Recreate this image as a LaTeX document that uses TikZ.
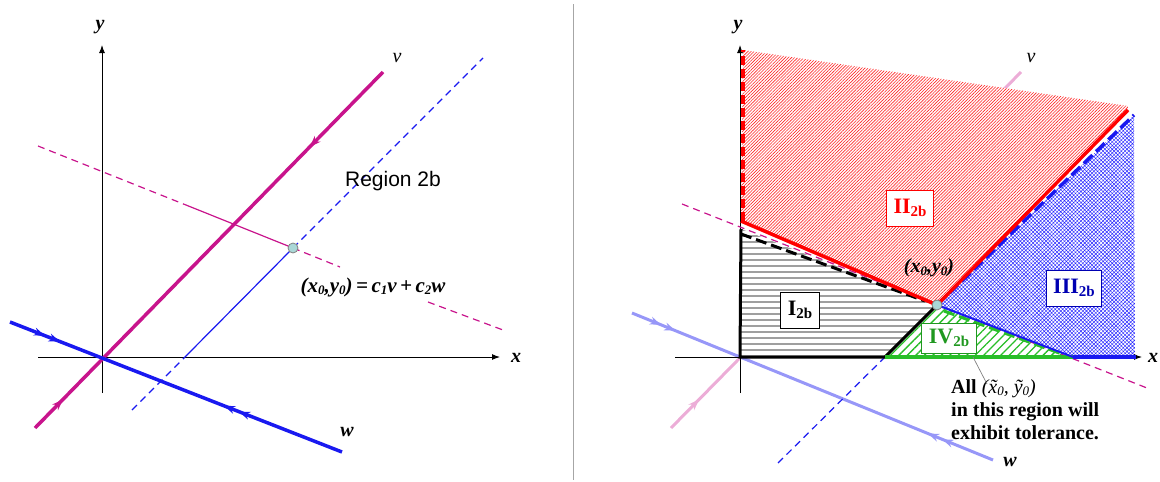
\documentclass[tikz,border=0pt]{standalone}
\usepackage{fontspec}
\setmainfont{Liberation Serif}
\newfontfamily\arialfont{Liberation Sans}
\usetikzlibrary{positioning, patterns.meta, decorations.markings, arrows.meta}
\definecolor{vmag}{RGB}{200,20,140}
\definecolor{wblu}{RGB}{25,25,240}
\definecolor{ptfill}{RGB}{170,215,215}
\definecolor{grn}{RGB}{40,190,40}
\newcommand\lowr[1]{\raisebox{-0.35ex}{\fontsize{15}{15}\selectfont #1}}
\newcommand\idx[1]{\raisebox{-0.3ex}{\fontsize{13}{13}\selectfont #1}}
\tikzset{
  axis/.style={line width=1pt, -{Latex[length=8pt,width=6pt]}},
  lbl/.style={font=\bfseries\itshape\fontsize{20}{20}\selectfont, inner sep=1pt},
  vline/.style={vmag, line width=3.5pt},
  wline/.style={wblu, line width=3.5pt},
  mdash/.style={vmag, line width=1.2pt, dash pattern=on 7pt off 5pt},
  bdash/.style={wblu, line width=1.2pt, dash pattern=on 7pt off 5pt},
  fwd/.style={postaction={decorate,decoration={markings,
    mark=at position #1 with {\arrow{Stealth[length=11pt,width=8pt]}}}}},
  bwd/.style={postaction={decorate,decoration={markings,
    mark=at position #1 with {\arrowreversed{Stealth[length=11pt,width=8pt]}}}}},
  pt/.style={draw=gray, fill=ptfill, line width=0.8pt},
  regbox/.style={draw=#1, text=#1, fill=white, line width=0.8pt, inner xsep=7pt,
    minimum height=36pt, font=\bfseries\fontsize{22}{22}\selectfont}
}

\begin{document}
\begin{tikzpicture}[x=1pt, y=-1pt]
\useasboundingbox (0,0) rectangle (1160,482);
% left panel
\coordinate (o) at (102,357);
\coordinate (xa) at (38,357);
\coordinate (xb) at (500,357);
\coordinate (ya) at (102,393);
\coordinate (yb) at (102,45);
\coordinate (v1) at (35,428);
\coordinate (v2) at (383,72);
\coordinate (w1) at (10,322);
\coordinate (w2) at (342,452);
\coordinate (p) at (293,248);
\coordinate (m1) at (38,146);
\coordinate (m2) at (186,205);
\coordinate (m4) at (340,267);
\coordinate (m5) at (428,302);
\coordinate (m3) at (503,330);
\coordinate (b1) at (132,410);
\coordinate (b2) at (185,357);
\coordinate (b3) at (483,58);
\draw [axis] (xa) -- (xb);
\draw [axis] (ya) -- (yb);
\node [lbl] (xl) at (516,358) {x};
\node [lbl] (yl) at (100,27) {y};
\draw [mdash] (m1) -- (m2);
\draw [vmag, line width=1.2pt] (m2) -- (p);
\draw [mdash] (p) -- (m4);
\draw [mdash] (m5) -- (m3);
\draw [bdash] (b1) -- (b2);
\draw [wblu, line width=1.2pt] (b2) -- (p);
\draw [bdash] (p) -- (b3);
\draw [vline, fwd=0.08, bwd=0.79] (v1) -- (v2);
\draw [wline, fwd=0.105, fwd=0.15, bwd=0.645, bwd=0.69] (w1) -- (w2);
\draw [pt] (p) circle (5);
\node [font=\itshape\fontsize{20}{20}\selectfont] (vl) at (397,58) {v};
\node [lbl] (wl) at (347,432) {w};
\node [font=\arialfont\fontsize{21}{21}\selectfont] (reg) at (393,181) {Region 2b};
\node [lbl, font=\bfseries\itshape\fontsize{21}{21}\selectfont] (eq) at (373,287)
  {(x\idx{0},y\idx{0})\,=\,c\idx{1}v\,+\,c\idx{2}w};
\draw [gray!70, line width=0.8pt] (573,4) -- (573,480);
% right panel
\coordinate (ro) at (740,357);
\coordinate (rxa) at (675,357);
\coordinate (rxb) at (1142,357);
\coordinate (rya) at (740,393);
\coordinate (ryb) at (740,45);
\coordinate (rv1) at (671,428);
\coordinate (rv2) at (1021,72);
\coordinate (rw1) at (632,313);
\coordinate (rw2) at (993,460);
\coordinate (rp) at (937,305);
\coordinate (rm1) at (682,204);
\coordinate (rm2) at (1147,388);
\coordinate (rb1) at (778,463);
\coordinate (ry2) at (741,221);
\coordinate (ryk) at (741,229);
\coordinate (rtop) at (743,50);
\coordinate (rtr) at (1128,106);
\coordinate (rr2) at (1128,110);
\coordinate (rbl) at (1134,115);
\coordinate (rbr) at (1135,357);
\coordinate (rxg) at (1073,357);
\coordinate (rxk) at (885,357);
\draw [vmag!35, line width=3pt, fwd=0.08] (rv1) -- (rv2);
\draw [wblu!45, line width=3pt, fwd=0.08, fwd=0.12, bwd=0.82, bwd=0.86] (rw1) -- (rw2);
\draw [bdash] (rb1) -- (rxk);
% regions
\fill [preaction={fill=white}, pattern={Lines[angle=45,distance=2.2pt,line width=0.6pt]},
  pattern color=red!85] (rtop) -- (rtr) -- (rr2) -- (rp) -- (ry2) -- cycle;
\fill [preaction={fill=white}, pattern={Hatch[angle=45,distance=2.6pt,line width=0.45pt]},
  pattern color=blue!85] (rp) -- (rbl) -- (rbr) -- (rxg) -- cycle;
\fill [preaction={fill=white}, pattern={Lines[angle=0,distance=6pt,line width=1.4pt]},
  pattern color=gray!75] (ro) -- (ryk) -- (rp) -- (rxk) -- cycle;
\fill [preaction={fill=white}, pattern={Lines[angle=45,distance=6pt,line width=1.3pt]},
  pattern color=grn] (rxk) -- (rp) -- (rxg) -- cycle;
\draw [axis] (rxa) -- (rxb);
\draw [axis] (rya) -- (ryb);
\node [lbl] (rxl) at (1153,358) {x};
\node [lbl] (ryl) at (738,27) {y};
\draw [mdash] (rm1) -- (rm2);
% borders
\draw [red, line width=3.5pt, dash pattern=on 9pt off 4pt] (743,221) -- (rtop);
\draw [black, line width=3pt] (ryk) -- (ro) -- (rxk) -- (rp);
\draw [black, line width=3pt, dash pattern=on 11pt off 5pt] (741,234) -- (925,301);
\draw [grn, line width=3.5pt] (rxk) -- (rxg);
\draw [grn, line width=3pt, dash pattern=on 11pt off 5pt] (944,311) -- (1062,354);
\draw [wblu, line width=2pt] (rp) -- (rxg);
\draw [wblu, line width=3.5pt] (rxg) -- (1136,357);
\draw [wblu, line width=3.5pt, dash pattern=on 12pt off 5pt] (rp) -- (rbl);
\draw [red, line width=3.5pt] (ry2) -- (rp) -- (rr2);
\draw [pt] (rp) circle (5);
\node [font=\itshape\fontsize{20}{20}\selectfont] (rvl) at (1031,58) {v};
\node [lbl] (rwl) at (1010,462) {w};
\node [lbl, font=\bfseries\itshape\fontsize{20}{20}\selectfont] (rpl) at (929,268)
  {(x\idx{0},y\idx{0})};
\node [regbox=red] (r2) at (910,208) {II\lowr{2b}};
\node [regbox=blue!70!black] (r3) at (1074,288) {III\lowr{2b}};
\node [regbox=black] (r1) at (800,310) {I\lowr{2b}};
\node [regbox=grn!80!black, minimum height=30pt] (r4) at (949,338) {IV\lowr{2b}};
\node [anchor=north west, align=left, inner sep=0pt,
  font=\bfseries\fontsize{20}{23}\selectfont] (note) at (951,379)
  {All {\mdseries\itshape (\~x\idx{0}, \~y\idx{0})}\\in this region will\\exhibit tolerance.};
\coordinate (tip) at (973,357);
\draw [gray, line width=0.7pt] (tip) -- (987,384);
\end{tikzpicture}
\end{document}
